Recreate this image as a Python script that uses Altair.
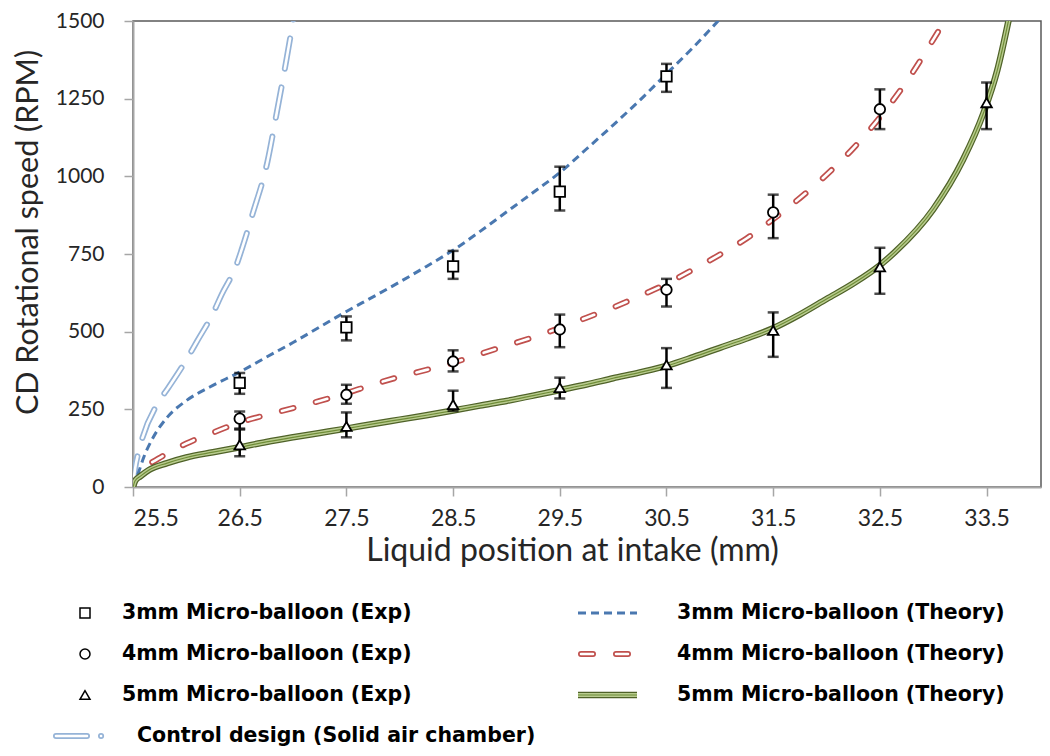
import altair as alt
import pandas as pd

# ---------------- data ----------------
X_TICKS = [25.5, 26.5, 27.5, 28.5, 29.5, 30.5, 31.5, 32.5, 33.5]
Y_TICKS = [0, 250, 500, 750, 1000, 1250, 1500]

# experimental points (mean, lower, upper)
exp_x_3 = [26.5, 27.5, 28.5, 29.5, 30.5]
exp_y_3 = [335, 514, 710, 951, 1322]
exp_lo_3 = [300, 472, 670, 890, 1272]
exp_hi_3 = [367, 549, 760, 1031, 1362]

exp_x_4 = [26.5, 27.5, 28.5, 29.5, 30.5, 31.5, 32.5]
exp_y_4 = [220, 297, 404, 507, 635, 884, 1216]
exp_lo_4 = [188, 268, 372, 450, 581, 801, 1152]
exp_hi_4 = [243, 329, 440, 555, 670, 941, 1280]

exp_x_5 = [26.5, 27.5, 28.5, 29.5, 30.5, 31.5, 32.5, 33.5]
exp_y_5 = [136, 195, 265, 320, 393, 504, 709, 1237]
exp_lo_5 = [99, 160, 245, 285, 319, 419, 622, 1152]
exp_hi_5 = [185, 240, 310, 352, 447, 562, 770, 1302]

# theory curves
th_x_3 = [25.5, 25.55, 25.6, 25.69, 25.82, 26.0, 26.22, 26.5, 26.75, 27.0, 27.25, 27.5, 27.75,
          28.0, 28.25, 28.5, 28.75, 29.0, 29.25, 29.5, 29.75, 30.0, 30.25, 30.5, 30.75, 31.05]
th_y_3 = [0, 45, 95, 160, 224, 278, 322, 370, 418, 465, 515, 565, 612,
          660, 710, 762, 822, 885, 948, 1012, 1088, 1165, 1245, 1330, 1415, 1525]

th_x_4 = [25.68, 25.82, 26.0, 26.25, 26.5, 26.75, 27.0, 27.25, 27.5, 27.75, 28.0, 28.25, 28.5,
          28.75, 29.0, 29.25, 29.5, 29.75, 30.0, 30.25, 30.5, 30.75, 31.0, 31.25, 31.5, 31.75,
          32.0, 32.25, 32.5, 32.75, 33.0, 33.15]
th_y_4 = [80, 108, 140, 175, 208, 232, 254, 277, 302, 330, 355, 377, 400,
          428, 455, 482, 512, 545, 578, 615, 654, 700, 748, 800, 862, 930,
          1005, 1090, 1190, 1305, 1440, 1525]

th_x_5 = [25.5, 25.52, 25.57, 25.65, 25.82, 26.0, 26.25, 26.5, 26.75, 27.0, 27.25, 27.5, 27.75,
          28.0, 28.25, 28.5, 28.75, 29.0, 29.25, 29.5, 29.75, 30.0, 30.25, 30.5, 30.75, 31.0,
          31.25, 31.5, 31.75, 32.0, 32.25, 32.5, 32.64, 33.0, 33.28, 33.47, 33.6, 33.72]
th_y_5 = [0, 20, 35, 55, 77, 95, 112, 128, 145, 160, 174, 188, 203,
          217, 231, 246, 262, 277, 294, 312, 330, 350, 369, 390, 418, 448,
          478, 511, 555, 605, 655, 714, 756, 894, 1054, 1203, 1341, 1525]

ctrl_x = [25.5, 25.52, 25.55, 25.59, 25.73, 25.83, 26.01, 26.1, 26.25, 26.33, 26.47, 26.52,
          26.62, 26.76, 26.85, 26.94, 27.01]
ctrl_y = [0, 60, 110, 160, 268, 319, 415, 469, 559, 619, 715, 766,
          878, 1047, 1210, 1379, 1520]

series_names = ["3mm", "4mm", "5mm"]
series_shapes = ["square", "circle", "triangle-up"]

legend_labels = ["3mm Micro-balloon (Exp)", "4mm Micro-balloon (Exp)", "5mm Micro-balloon (Exp)",
                 "Control design (Solid air chamber)",
                 "3mm Micro-balloon (Theory)", "4mm Micro-balloon (Theory)", "5mm Micro-balloon (Theory)"]
legend_rows = [0, 1, 2, 3, 0, 1, 2]
legend_keys = ["exp", "exp", "exp", "ctrl", "th3", "th4", "th5"]
legend_series = ["3mm", "4mm", "5mm", "ctrl", "3mm", "4mm", "5mm"]

# ---------------- tables ----------------
exp_df = pd.concat([
    pd.DataFrame({"x": exp_x_3, "y": exp_y_3, "lo": exp_lo_3, "hi": exp_hi_3, "series": "3mm"}),
    pd.DataFrame({"x": exp_x_4, "y": exp_y_4, "lo": exp_lo_4, "hi": exp_hi_4, "series": "4mm"}),
    pd.DataFrame({"x": exp_x_5, "y": exp_y_5, "lo": exp_lo_5, "hi": exp_hi_5, "series": "5mm"}),
], ignore_index=True)

df3 = pd.DataFrame({"x": th_x_3, "y": th_y_3})
df4 = pd.DataFrame({"x": th_x_4, "y": th_y_4})
df5 = pd.DataFrame({"x": th_x_5, "y": th_y_5})
dfc = pd.DataFrame({"x": ctrl_x, "y": ctrl_y})
legend_df = pd.DataFrame({"label": legend_labels, "row": legend_rows,
                          "key": legend_keys, "series": legend_series})

# ---------------- scales / axes ----------------
TXT = "#262626"
xscale = alt.Scale(domain=[25.5, 34.01], nice=False, zero=False)
yscale = alt.Scale(domain=[0, 1500], nice=False, zero=True)
XTITLE = "Liquid position at intake (mm)"
YTITLE = "CD Rotational speed (RPM)"
x_axis = alt.Axis(values=X_TICKS, format=".1f", grid=False, domainColor="#a6a6a6", domainWidth=2,
                  tickColor="#a6a6a6", tickWidth=1.5, tickSize=9, labelFont="Lato", labelFontSize=23,
                  labelColor=TXT, labelPadding=11, titleFont="Lato", titleFontSize=32,
                  titleFontWeight="normal", titleColor=TXT, titleX=439, titleY=73,
                  titleBaseline="alphabetic")
y_axis = alt.Axis(values=Y_TICKS, format="d", grid=False, domainColor="#a6a6a6", domainWidth=2,
                  tickColor="#a6a6a6", tickWidth=1.5, tickSize=9, labelFont="Lato", labelFontSize=21,
                  labelColor=TXT, labelPadding=20, titleFont="Lato", titleFontSize=30.5,
                  titleFontWeight="normal", titleColor=TXT, titleAngle=-90, titleBaseline="middle",
                  titleX=-105, titleY=211)


def X(f):
    return alt.X(f"{f}:Q", scale=xscale, axis=x_axis, title=XTITLE)


def Y(f):
    return alt.Y(f"{f}:Q", scale=yscale, axis=y_axis, title=YTITLE)


def line(df, **kw):
    return alt.Chart(df).mark_line(clip=True, interpolate="monotone", **kw).encode(x=X("x"), y=Y("y"))


CTRL_DASH = [31, 19]
CTRL_DASH_LEG = [31, 14, 0.1, 14]
RED_DASH = [12, 23]
BLUE_DASH = [8, 5]

layers = [
    line(dfc, color="#95b3d7", strokeWidth=6, strokeCap="round", strokeDash=CTRL_DASH),
    line(dfc, color="white", strokeWidth=2.6, strokeCap="round", strokeDash=CTRL_DASH),
    line(df3, color="#4a78b0", strokeWidth=3, strokeDash=BLUE_DASH),
    line(df4, color="#c0504d", strokeWidth=6, strokeCap="round", strokeDash=RED_DASH),
    line(df4, color="white", strokeWidth=2.6, strokeCap="round", strokeDash=RED_DASH),
    line(df5, color="#4f6228", strokeWidth=6.5),
    line(df5, color="#b9cc8f", strokeWidth=4),
    line(df5, color="#6f8c38", strokeWidth=1.2),
    alt.Chart(exp_df).mark_rule(color="black", strokeWidth=2.5).encode(
        x=X("x"), y=Y("lo"), y2="hi:Q"),
    alt.Chart(exp_df).transform_fold(["lo", "hi"], as_=["k", "v"]).mark_tick(
        color="black", thickness=2.5, size=11, orient="horizontal").encode(x=X("x"), y=Y("v")),
    alt.Chart(exp_df).mark_point(filled=False, fill="white", fillOpacity=1, stroke="black",
                                 strokeWidth=1.8, size=110, opacity=1).encode(
        x=X("x"), y=Y("y"),
        shape=alt.Shape("series:N", scale=alt.Scale(domain=series_names, range=series_shapes),
                        legend=None)),
]
main = alt.layer(*layers)

# ---------------- legend ----------------
legend_y = alt.Scale(domain=[0, 3], range=[592, 715])
LY = alt.Y("row:Q", scale=legend_y, axis=None)
LFONT = dict(font="DejaVu Sans", fontWeight="bold", fontSize=20.5, color="black",
             align="left", baseline="middle")
base = alt.Chart(legend_df)


def lrule(key, x1, x2, **kw):
    return base.transform_filter(alt.datum.key == key).mark_rule(**kw).encode(
        x=alt.value(x1), x2=alt.value(x2), y=LY)


legend_layers = [
    base.transform_filter(alt.datum.key == "exp").mark_point(
        filled=False, fill="white", fillOpacity=1, stroke="black", strokeWidth=1.5, size=100).encode(
        x=alt.value(-48), y=LY,
        shape=alt.Shape("series:N", scale=alt.Scale(domain=series_names, range=series_shapes),
                        legend=None)),
    base.transform_filter(alt.datum.key == "exp").mark_text(**LFONT).encode(
        x=alt.value(-11), y=LY, text="label:N"),
    base.transform_filter(alt.datum.key == "ctrl").mark_text(**LFONT).encode(
        x=alt.value(4), y=LY, text="label:N"),
    base.transform_filter(alt.datum.key != "exp").transform_filter(alt.datum.key != "ctrl")
        .mark_text(**LFONT).encode(x=alt.value(544), y=LY, text="label:N"),
    lrule("ctrl", -77, -29, color="#95b3d7", strokeWidth=6, strokeCap="round", strokeDash=CTRL_DASH_LEG),
    lrule("ctrl", -77, -29, color="white", strokeWidth=2.6, strokeCap="round", strokeDash=CTRL_DASH_LEG),
    lrule("th3", 445, 504, color="#4a78b0", strokeWidth=3, strokeDash=BLUE_DASH),
    lrule("th4", 448, 496, color="#c0504d", strokeWidth=6, strokeCap="round", strokeDash=RED_DASH),
    lrule("th4", 448, 496, color="white", strokeWidth=2.6, strokeCap="round", strokeDash=RED_DASH),
    lrule("th5", 445, 504, color="#4f6228", strokeWidth=6.5),
    lrule("th5", 445, 504, color="#b9cc8f", strokeWidth=4),
    lrule("th5", 445, 504, color="#6f8c38", strokeWidth=1.2),
]
legend = alt.layer(*legend_layers)

chart = alt.layer(main, legend).resolve_scale(y="independent").properties(
    width=908, height=466,
    autosize=alt.AutoSizeParams(type="none"),
    padding={"left": 125, "top": 13, "right": 1, "bottom": 261},
    background="white",
).configure_view(stroke="#595959", strokeWidth=1.5)

chart.save("out.html", embed_options={"renderer": "svg", "actions": False})
